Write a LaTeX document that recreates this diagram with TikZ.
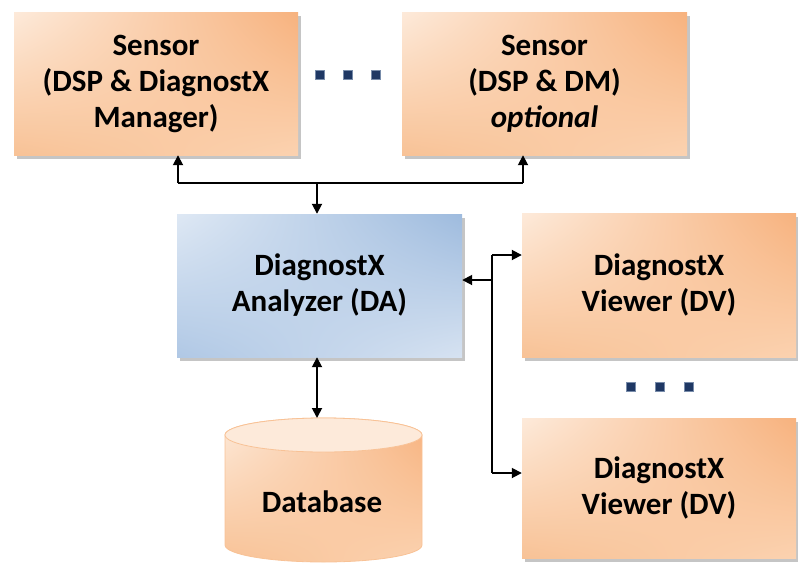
\documentclass[tikz,border=0pt]{standalone}
\usepackage{fontspec}
\setmainfont{Carlito}
\usetikzlibrary{shadows,shadings,arrows.meta}
\definecolor{oUL}{RGB}{253,234,218}
\definecolor{oUR}{RGB}{247,178,126}
\definecolor{oLL}{RGB}{248,194,150}
\definecolor{oLR}{RGB}{251,210,176}
\definecolor{bUL}{RGB}{222,232,244}
\definecolor{bUR}{RGB}{158,187,222}
\definecolor{bLL}{RGB}{176,200,229}
\definecolor{bLR}{RGB}{214,226,241}
\definecolor{dotc}{RGB}{31,56,100}
\definecolor{dotb}{RGB}{120,140,170}
\tikzset{
  txt/.style={font=\fontsize{31}{36}\selectfont\bfseries},
  obox/.style={rectangle, inner sep=0pt, align=center, txt,
    upper left=oUL, upper right=oUR, lower left=oLL, lower right=oLR,
    drop shadow={shadow xshift=3pt, shadow yshift=-4pt, fill=black!45, opacity=0.5}},
  bbox/.style={obox, upper left=bUL, upper right=bUR, lower left=bLL, lower right=bLR},
  arr/.style={line width=1.8pt, draw=black, -{Triangle[length=10pt,width=10pt]}},
  darr/.style={line width=1.8pt, draw=black, {Triangle[length=10pt,width=10pt]}-{Triangle[length=10pt,width=10pt]}},
  ln/.style={line width=1.8pt, draw=black},
  sq/.style={rectangle, minimum size=9pt, inner sep=0pt, fill=dotc, draw=dotb, line width=0.6pt}
}
\begin{document}
\begin{tikzpicture}[x=1pt,y=-1pt]
\useasboundingbox (0,0) rectangle (798,563);
% boxes
\node[obox, minimum width=284pt, minimum height=143pt] (s1) at (156,83.5) {Sensor\\(DSP \& DiagnostX\\Manager)};
\node[obox, minimum width=285pt, minimum height=143pt] (s2) at (544.5,83.5) {Sensor\\(DSP \& DM)\\\textit{optional}};
\node[bbox, minimum width=285pt, minimum height=143pt] (da) at (319.5,285.5) {DiagnostX\\Analyzer (DA)};
\node[obox, minimum width=274pt, minimum height=144pt] (dv1) at (659,285) {DiagnostX\\Viewer (DV)};
\node[obox, minimum width=274pt, minimum height=140pt] (dv2) at (659,488) {DiagnostX\\Viewer (DV)};
% database cylinder
\shade[upper left=oUL, upper right=oUR, lower left=oLL, lower right=oLR, draw=oLL, line width=0.8pt]
  (225,435) -- (225,545) arc[start angle=180, end angle=0, x radius=98.5, y radius=17]
  -- (422,435) arc[start angle=0, end angle=-180, x radius=98.5, y radius=17] -- cycle;
\fill[oUL] (323.5,435) ellipse[x radius=98.5, y radius=17];
\draw[oLL, line width=0.8pt] (323.5,435) ellipse[x radius=98.5, y radius=17];
\node[txt] (db) at (322,502) {Database};
\coordinate (dbtop) at (317,418);
% dots
\node[sq] (d1) at (320,75) {};
\node[sq] (d2) at (348,75) {};
\node[sq] (d3) at (376,75) {};
\node[sq] (d4) at (631,387) {};
\node[sq] (d5) at (660,387) {};
\node[sq] (d6) at (689,387) {};
% connectors
\coordinate (busL) at (178,183);
\coordinate (busR) at (523,183);
\coordinate (busM) at (317,183);
\draw[ln] (busL) -- (busR);
\draw[arr] (busL) -- (busL |- s1.south);
\draw[arr] (busR) -- (busR |- s2.south);
\draw[arr] (busM) -- (busM |- da.north);
\draw[darr] (dbtop |- da.south) -- (dbtop);
\coordinate (vj) at (492,280);
\coordinate (vb1) at (492,255);
\coordinate (vb2) at (492,473);
\draw[ln] (vb1) -- (vb2);
\draw[arr] (vj) -- (vj -| da.east);
\draw[arr] (vb1) -- (vb1 -| dv1.west);
\draw[arr] (vb2) -- (vb2 -| dv2.west);
\end{tikzpicture}
\end{document}
